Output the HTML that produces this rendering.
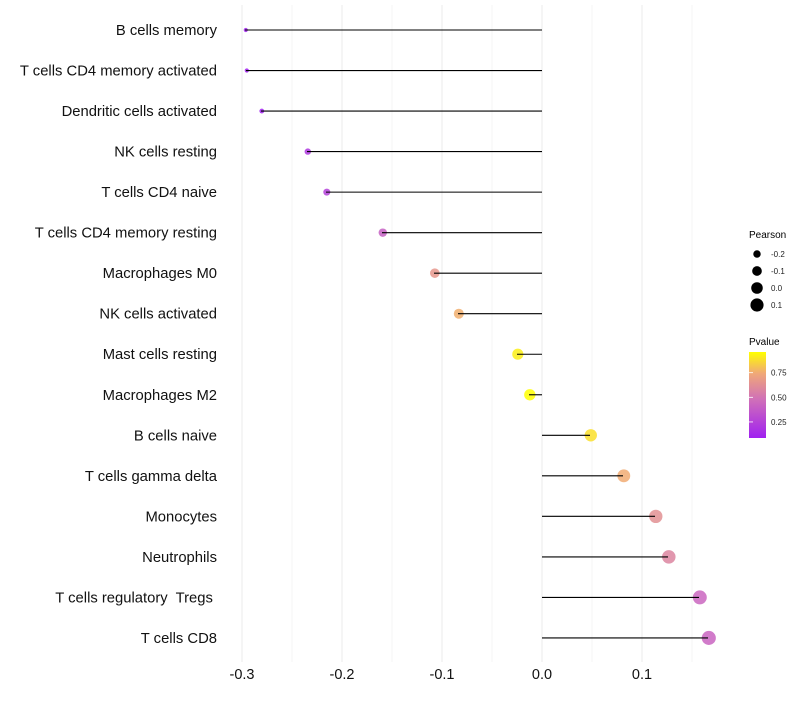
<!DOCTYPE html>
<html><head><meta charset="utf-8"><style>
body{margin:0;background:#fff;font-family:"Liberation Sans",Arial,sans-serif}
svg text{font-family:"Liberation Sans",Arial,sans-serif;white-space:pre}
</style></head><body>
<svg id="chart" width="800" height="700" xmlns="http://www.w3.org/2000/svg">
<defs><linearGradient id="pgrad" x1="0" y1="1" x2="0" y2="0">
<stop offset="0" stop-color="#a020f0"/><stop offset="0.45" stop-color="#d070b8"/><stop offset="0.75" stop-color="#f0a878"/><stop offset="1" stop-color="#ffff00"/></linearGradient></defs>
<g id="grid"></g><g id="points"></g><g id="marks"></g><g id="labels"></g>
<g>
<text x="749" y="238" font-size="10">Pearson</text>
<g id="sizeleg"></g>
<text x="749" y="345" font-size="10">Pvalue</text>
<rect x="749" y="352" width="17" height="86" fill="url(#pgrad)"/>
<g id="colorleg"></g>
</g>
</svg>
<script>
const categories=["B cells memory","T cells CD4 memory activated","Dendritic cells activated","NK cells resting","T cells CD4 naive","T cells CD4 memory resting","Macrophages M0","NK cells activated","Mast cells resting","Macrophages M2","B cells naive","T cells gamma delta","Monocytes","Neutrophils","T cells regulatory  Tregs ","T cells CD8"];
const pearson=[-0.297,-0.296,-0.281,-0.235,-0.216,-0.16,-0.108,-0.084,-0.025,-0.013,0.048,0.081,0.113,0.126,0.157,0.166];
const pvalue=[0.06,0.06,0.08,0.2,0.25,0.4,0.66,0.76,0.92,0.96,0.88,0.75,0.63,0.58,0.43,0.42];
const xTicks=[-0.3,-0.2,-0.1,0.0,0.1];
const xTickLabels=["-0.3","-0.2","-0.1","0.0","0.1"];
const xMinor=[-0.25,-0.15,-0.05,0.05,0.15];
const sizeLegendVals=[-0.2,-0.1,0.0,0.1];
const colorLegendVals=[0.25,0.5,0.75];

const NS="http://www.w3.org/2000/svg";
const X=v=>542+v*1000;
const Y=i=>30+i*40.53;
const R=v=>Math.sqrt(4+Math.max(0,(v+0.3))*98);
const PY=p=>438-(p-0.087)/(0.96-0.087)*86;
function col(p){
 const t=Math.max(0,Math.min(1,(p-0.087)/(0.96-0.087)));
 const stops=[[0,[160,32,240]],[0.45,[208,112,184]],[0.75,[240,168,120]],[1,[255,255,0]]];
 for(let k=1;k<stops.length;k++){if(t<=stops[k][0]){const a=stops[k-1],b=stops[k];const f=(t-a[0])/(b[0]-a[0]);return 'rgb('+a[1].map((c,j)=>Math.round(c+(b[1][j]-c)*f)).join(',')+')';}}
 return 'rgb(255,255,0)';
}
function mk(tag,attrs,parent){const e=document.createElementNS(NS,tag);for(const k in attrs)e.setAttribute(k,attrs[k]);parent.appendChild(e);return e;}
const grid=document.getElementById('grid'),marks=document.getElementById('marks'),labels=document.getElementById('labels'),pts=document.getElementById('points');
xMinor.forEach(v=>{const l=mk('line',{x1:X(v),x2:X(v),y1:5,y2:662,stroke:'#f4f4f4','stroke-width':1},grid);

});
xTicks.forEach((v,i)=>{const l=mk('line',{x1:X(v),x2:X(v),y1:5,y2:662,stroke:'#ebebeb','stroke-width':1},grid);


const t=mk('text',{x:X(v),y:679,'font-size':14.5,'text-anchor':'middle',fill:'#111'},labels);t.textContent=xTickLabels[i];

});
categories.forEach((c,i)=>{
 const t=mk('text',{x:217,y:Y(i)+5,'font-size':14.8,'text-anchor':'end',fill:'#111'},labels);t.textContent=c;
 
 
 const p=mk('circle',{cx:X(pearson[i])+0.8,cy:Y(i),r:R(pearson[i]),fill:col(pvalue[i]),'fill-opacity':0.85},pts);
 
 
 const l=mk('line',{x1:X(0),x2:X(pearson[i]),y1:Y(i),y2:Y(i),stroke:'#000','stroke-width':1.1},marks);
 
 
});
const sl=document.getElementById('sizeleg');
sizeLegendVals.forEach((v,i)=>{const y=254+i*17;
 const c=mk('circle',{cx:757,cy:y,r:R(v),fill:'#000'},sl);
 
 
 const t=mk('text',{x:771,y:y+3,'font-size':8,fill:'#222'},sl);t.textContent=v.toFixed(1);
 
 });
const cl=document.getElementById('colorleg');
colorLegendVals.forEach(v=>{const y=PY(v);
 const l=mk('line',{x1:749,x2:753,y1:y,y2:y,stroke:'#fff','stroke-width':0.8},cl);
 
 
 const t=mk('text',{x:771,y:y+3,'font-size':8,fill:'#222'},cl);t.textContent=v.toFixed(2);
 
 });
</script>
</body></html>
